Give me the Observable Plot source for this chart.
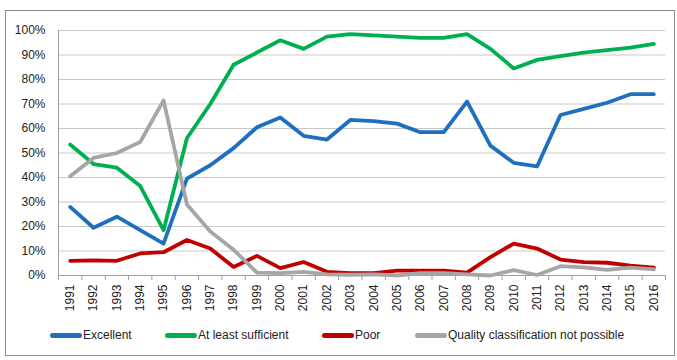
<!DOCTYPE html>
<html>
<head>
<meta charset="utf-8">
<script src="https://cdn.jsdelivr.net/npm/d3@7"></script>
<script src="https://cdn.jsdelivr.net/npm/@observablehq/plot@0.6"></script>
<style>
  body { margin: 0; background: #fff; font-family: "Liberation Sans", Arial, sans-serif; }
  #wrap { position: relative; width: 677px; height: 360px; }
  #frame { position: absolute; left: 5px; top: 10px; width: 668px; height: 344px; border: 1px solid #8c8c8c; pointer-events: none; }
  #chart { position: absolute; left: 0; top: 0; }
  #legend { position: absolute; left: 0; top: 326px; width: 677px; height: 20px; font-size: 12px; color: #222; }
  .item { position: absolute; top: 0; display: flex; align-items: center; height: 18px; white-space: nowrap; }
  .sw { width: 32px; height: 5px; border-radius: 3px; margin-right: 1px; }
</style>
</head>
<body>
<div id="wrap">
  <div id="chart"></div>
  <div id="legend"></div>
  <div id="frame"></div>
</div>
<script>
const years = [1991,1992,1993,1994,1995,1996,1997,1998,1999,2000,2001,2002,2003,2004,2005,2006,2007,2008,2009,2010,2011,2012,2013,2014,2015,2016];
const excellent = [28,19.5,24,18.5,13,39.5,45,52,60.5,64.5,57,55.5,63.5,63,62,58.5,58.5,71,53,46,44.5,65.5,68,70.5,74,74];
const sufficient = [53.5,45.5,44,36.5,18.5,56,70,86,91,96,92.5,97.5,98.5,98,97.5,97,97,98.5,92.5,84.5,88,89.5,91,92,93,94.5];
const poor = [6,6.2,6,9,9.5,14.5,11,3.5,8,3,5.5,1.5,1,1,2,2,2,1.2,7.5,13,11,6.5,5.5,5.2,4,3.2];
const notPossible = [40.5,48,50,54.5,71.5,29,18,10.5,1.2,1,1.5,0.5,0.3,0.5,0,1,1,0.5,0,2.2,0.2,3.8,3.3,2.3,3.2,2.5];
const seriesNames = ["Excellent","At least sufficient","Poor","Quality classification not possible"];
const seriesColors = ["#1f6fc0","#00b050","#c00000","#a6a6a6"];
const yTicks = [0,0.1,0.2,0.3,0.4,0.5,0.6,0.7,0.8,0.9,1];

const allSeries = [excellent, sufficient, poor, notPossible];
const data = [];
allSeries.forEach((vals, si) => {
  vals.forEach((v, i) => data.push({year: years[i], value: v / 100, series: seriesNames[si]}));
});
const boundaries = [years[0] - 0.5, ...years.map(y => y + 0.5)];

const chart = Plot.plot({
  width: 677,
  height: 320,
  marginLeft: 58,
  marginRight: 12,
  marginTop: 30,
  marginBottom: 45,
  style: { fontFamily: "Liberation Sans, Arial, sans-serif", fontSize: "12px", color: "#222", background: "transparent" },
  x: { type: "linear", domain: [boundaries[0], boundaries[boundaries.length - 1]] },
  y: { domain: [0, 1] },
  color: { domain: seriesNames, range: seriesColors },
  marks: [
    Plot.gridY(yTicks, { stroke: "#c8c8c8", strokeOpacity: 1, strokeWidth: 1 }),
    Plot.axisY(yTicks, { tickFormat: d3.format(".0%"), tickSize: 0, tickPadding: 13, label: null }),
    Plot.ruleX([boundaries[0]], { stroke: "#a0a0a0", strokeWidth: 1 }),
    Plot.ruleY([0], { stroke: "#a0a0a0", strokeWidth: 1 }),
    Plot.axisX(boundaries, { tickFormat: () => "", tickSize: 5, stroke: "#a0a0a0", label: null }),
    Plot.axisX(years, { tickFormat: d => String(d), tickSize: 0, tickPadding: 9, tickRotate: -90, label: null }),
    Plot.line(data, { x: "year", y: "value", z: "series", stroke: "series", strokeWidth: 3.8, strokeLinejoin: "round", strokeLinecap: "round" })
  ]
});
document.getElementById("chart").appendChild(chart);

const legendLefts = [50, 165, 322, 415];
const legend = document.getElementById("legend");
seriesNames.forEach((name, i) => {
  const item = document.createElement("div");
  item.className = "item";
  item.style.left = legendLefts[i] + "px";
  const sw = document.createElement("div");
  sw.className = "sw";
  sw.style.background = seriesColors[i];
  const t = document.createElement("span");
  t.textContent = name;
  item.appendChild(sw);
  item.appendChild(t);
  legend.appendChild(item);
});
</script>
</body>
</html>
